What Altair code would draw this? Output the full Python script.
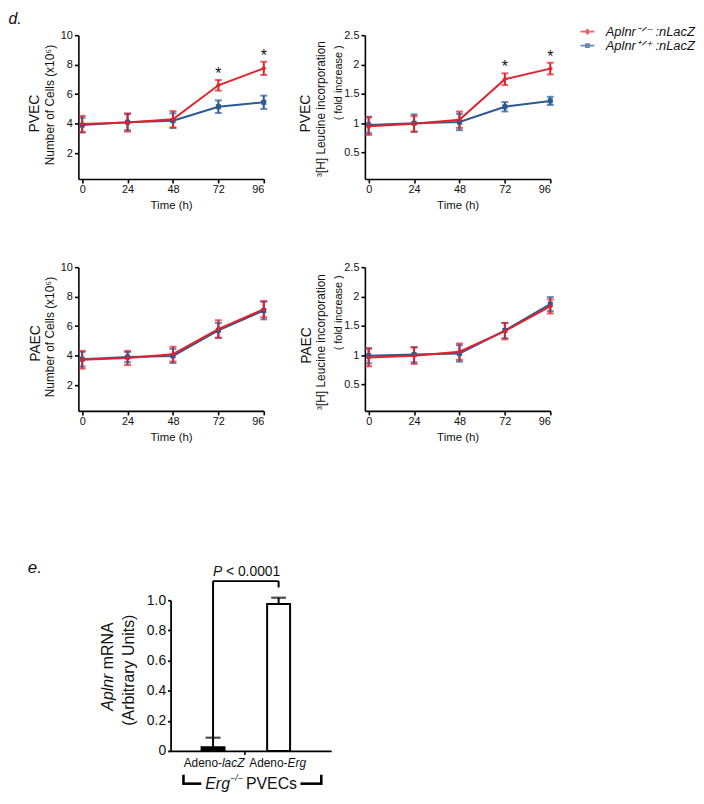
import altair as alt
import pandas as pd

FONT = "Liberation Sans"
RED = "#e5202a"
BLUE = "#2b5991"

RED_LABEL = "Aplnr⁻ᐟ⁻ :nLacZ"
BLUE_LABEL = "Aplnr⁺ᐟ⁺ :nLacZ"
SERIES = [RED_LABEL, BLUE_LABEL]

hours = [0, 24, 48, 72, 96]

# PVEC - number of cells (x10^5)
pvec_cells_red = [3.98, 4.08, 4.30, 6.60, 7.75]
pvec_cells_red_err = [0.55, 0.62, 0.55, 0.36, 0.45]
pvec_cells_blue = [3.90, 4.10, 4.20, 5.15, 5.45]
pvec_cells_blue_err = [0.50, 0.55, 0.50, 0.43, 0.45]

# PVEC - 3H leucine incorporation (fold increase)
pvec_leu_red = [0.95, 0.99, 1.06, 1.75, 1.93]
pvec_leu_red_err = [0.15, 0.13, 0.14, 0.10, 0.10]
pvec_leu_blue = [0.97, 1.00, 1.02, 1.28, 1.38]
pvec_leu_blue_err = [0.14, 0.15, 0.14, 0.08, 0.07]

# PAEC - number of cells (x10^5)
paec_cells_red = [3.72, 3.84, 4.10, 5.80, 7.15]
paec_cells_red_err = [0.60, 0.48, 0.50, 0.60, 0.55]
paec_cells_blue = [3.76, 3.90, 3.98, 5.72, 7.06]
paec_cells_blue_err = [0.50, 0.35, 0.48, 0.50, 0.60]

# PAEC - 3H leucine incorporation (fold increase)
paec_leu_red = [0.96, 0.99, 1.06, 1.41, 1.83]
paec_leu_red_err = [0.15, 0.14, 0.14, 0.14, 0.12]
paec_leu_blue = [0.99, 1.01, 1.03, 1.42, 1.87]
paec_leu_blue_err = [0.13, 0.13, 0.14, 0.13, 0.12]

star_hours = [72, 96]

# panel e
e_categories = ["Adeno-lacZ", "Adeno-Erg"]
e_prefix = ["Adeno-", "Adeno-"]
e_italic = ["lacZ", "Erg"]
e_values = [0.025, 0.975]
e_err = [0.063, 0.042]
e_fill = ["black", "white"]
e_tick_values = [0, 0.2, 0.4, 0.6, 0.8, 1.0]


def make_df(red, red_err, blue, blue_err):
    rows = []
    for lab, vals, errs in [(BLUE_LABEL, blue, blue_err), (RED_LABEL, red, red_err)]:
        for t, v, e in zip(hours, vals, errs):
            rows.append({"s": lab, "t": t, "m": v, "lo": v - e, "hi": v + e})
    return pd.DataFrame(rows)


color_scale = alt.Scale(domain=SERIES, range=[RED, BLUE])
cond_color = alt.condition(alt.datum.s == RED_LABEL, alt.value(RED), alt.value(BLUE))

LINE_PATH_DIAMOND = "M-1.75,-0.22H1.75V0.22H-1.75Z M0,-0.8L0.8,0L0,0.8L-0.8,0Z"
LINE_PATH_SQUARE = "M-1.75,-0.22H1.75V0.22H-1.75Z M-0.62,-0.62H0.62V0.62H-0.62Z"

W, H = 187, 145
ONE = pd.DataFrame({"k": [0]})


def guide(y_top, y_bottom):
    # invisible rule that fixes the layout bounds of a row
    return alt.Chart(ONE).mark_rule(strokeOpacity=0, strokeWidth=1).encode(
        x=alt.value(-70.5), y=alt.value(y_top), y2=alt.value(y_bottom))


def line_panel(df, ydom, yvals, title_main, title_main_x, title_main_y, title_fs,
               cell_label, cell_x, cell_y, second=None, stars=False, legend=False,
               dlabel=False, bounds_guide=False):
    xscale = alt.Scale(domain=[-2, 96], nice=False, zero=False)
    xaxis = alt.Axis(values=hours, title="Time (h)", titleY=27, titleBaseline="middle",
                     titleFontSize=11.5, titleFontWeight="normal", labelFontSize=11,
                     tickSize=4, labelPadding=1, grid=False)
    yscale = alt.Scale(domain=ydom, nice=False, zero=False)
    yaxis = alt.Axis(values=yvals, format="~r", title=title_main, titleX=title_main_x,
                     titleY=title_main_y, titleBaseline="middle", titleFontSize=title_fs,
                     titleFontWeight="normal", labelFontSize=11, tickSize=4, labelPadding=2,
                     grid=False, labelOverlap=False)

    def X(f):
        return alt.X(f, scale=xscale, axis=xaxis)

    def Y(f):
        return alt.Y(f, scale=yscale, axis=yaxis)

    base = alt.Chart(df)
    line = base.mark_line(strokeWidth=2).encode(x=X("t:Q"), y=Y("m:Q"), color=cond_color,
                                                detail="s:N", order="t:Q")
    rule = base.mark_rule(strokeWidth=2).encode(x=X("t:Q"), y=Y("lo:Q"), y2="hi:Q", color=cond_color)
    cap_lo = base.mark_tick(orient="horizontal", size=7, thickness=2).encode(
        x=X("t:Q"), y=Y("lo:Q"), color=cond_color)
    cap_hi = base.mark_tick(orient="horizontal", size=7, thickness=2).encode(
        x=X("t:Q"), y=Y("hi:Q"), color=cond_color)
    pts = base.mark_point(filled=True, size=26, opacity=1).encode(
        x=X("t:Q"), y=Y("m:Q"), color=cond_color,
        shape=alt.condition(alt.datum.s == RED_LABEL, alt.value("diamond"), alt.value("square")),
    )
    layers = [line, rule, cap_lo, cap_hi, pts]

    lab_df = pd.DataFrame({"label": [cell_label]})
    layers.append(
        alt.Chart(lab_df).mark_text(angle=270, fontSize=14, font=FONT, color="#111",
                                    align="center", baseline="middle")
        .encode(text="label:N", x=alt.value(cell_x), y=alt.value(cell_y))
    )
    if second is not None:
        txt, sx, sy, sfs = second
        layers.append(
            alt.Chart(pd.DataFrame({"label": [txt]})).mark_text(
                angle=270, fontSize=sfs, font=FONT, color="#111", align="center", baseline="middle")
            .encode(text="label:N", x=alt.value(sx), y=alt.value(sy))
        )
    if stars:
        sdf = df[(df.s == RED_LABEL) & (df.t.isin(star_hours))]
        layers.append(
            alt.Chart(sdf).mark_text(text="*", fontSize=16, font=FONT, color="#111",
                                     baseline="alphabetic", dy=-1)
            .encode(x=X("t:Q"), y=Y("hi:Q"))
        )
    if legend:
        leg = alt.Legend(orient="none", legendX=507, legendY=-10, title=None,
                         labelFontStyle="italic", labelFontSize=13, labelFont=FONT,
                         labelColor="#111", symbolSize=64, symbolStrokeWidth=0,
                         labelOffset=12, rowPadding=0, padding=0)
        layers.append(
            base.transform_filter("false").mark_point(filled=True).encode(
                x=X("t:Q"), y=Y("m:Q"),
                color=alt.Color("s:N", scale=color_scale, legend=leg),
                shape=alt.Shape("s:N", scale=alt.Scale(domain=SERIES,
                                                       range=[LINE_PATH_DIAMOND, LINE_PATH_SQUARE]),
                                legend=leg),
            )
        )
    if dlabel:
        layers.append(
            alt.Chart(pd.DataFrame({"label": ["d."]})).mark_text(
                fontSize=16, fontStyle="italic", font=FONT, color="#111",
                align="left", baseline="alphabetic")
            .encode(text="label:N", x=alt.value(-70.5), y=alt.value(-11))
        )
    if bounds_guide:
        layers.append(guide(-24, H + 40))
    return alt.layer(*layers).properties(width=W, height=H)


cells_title = "Number of Cells (x10⁵)"
leu_title = "³[H] Leucine incorporation"
fold = "( fold increase )"

p1 = line_panel(make_df(pvec_cells_red, pvec_cells_red_err, pvec_cells_blue, pvec_cells_blue_err),
                [0.25, 10], [2, 4, 6, 8, 10], cells_title, -29, 70, 12,
                "PVEC", -44, 79, stars=True, dlabel=True, bounds_guide=True)
p2 = line_panel(make_df(pvec_leu_red, pvec_leu_red_err, pvec_leu_blue, pvec_leu_blue_err),
                [0.05, 2.5], [0.5, 1, 1.5, 2, 2.5], leu_title, -45, 74, 12,
                "PVEC", -59, 79, second=(fold, -26, 48, 11), stars=True, legend=True)
p3 = line_panel(make_df(paec_cells_red, paec_cells_red_err, paec_cells_blue, paec_cells_blue_err),
                [0.25, 10], [2, 4, 6, 8, 10], cells_title, -29, 70, 12,
                "PAEC", -43, 77, bounds_guide=True)
p4 = line_panel(make_df(paec_leu_red, paec_leu_red_err, paec_leu_blue, paec_leu_blue_err),
                [0.05, 2.5], [0.5, 1, 1.5, 2, 2.5], leu_title, -45, 75, 12,
                "PAEC", -58, 79, second=(fold, -26, 46, 11))

# ---------------- panel e ----------------
EW, EH = 162, 152
edf = pd.DataFrame({"cat": e_categories, "pre": e_prefix, "ita": e_italic,
                    "v": e_values, "hi": [v + e for v, e in zip(e_values, e_err)], "fill": e_fill})
ex = alt.Scale(domain=e_categories, paddingInner=0.65, paddingOuter=0.55, align=0.43)
exaxis = alt.Axis(labels=False, ticks=False, title=None, domainWidth=1.8)
ey = alt.Scale(domain=[0, 1], nice=False, zero=True)
eyaxis = alt.Axis(values=e_tick_values, labelExpr="datum.value == 0 ? '0' : format(datum.value, '.1f')",
                  labelFontSize=14, tickSize=3, labelPadding=2, domainWidth=1.8, tickWidth=1.8,
                  labelOverlap=False,
                  title="(Arbitrary Units)", titleX=-42, titleY=70, titleBaseline="middle",
                  titleFontSize=16, titleFontWeight="normal", grid=False)


def EX(f):
    return alt.X(f, scale=ex, axis=exaxis)


def EY(f):
    return alt.Y(f, scale=ey, axis=eyaxis)


def EYD(v):
    return alt.Y(datum=v, scale=ey, axis=eyaxis)


ebase = alt.Chart(edf)
bars = ebase.mark_bar(stroke="black", strokeWidth=2).encode(
    x=EX("cat:N"), y=EY("v:Q"),
    fill=alt.Fill("cat:N", scale=alt.Scale(domain=e_categories, range=e_fill), legend=None))
erule = ebase.mark_rule(strokeWidth=2, color="black").encode(x=EX("cat:N"), y=EY("v:Q"), y2="hi:Q")
ecap = ebase.mark_tick(orient="horizontal", size=15, thickness=2.2, color="black").encode(
    x=EX("cat:N"), y=EY("hi:Q"))

BRACKET_TOP = 1.127
BRACKET_RIGHT_LOW = 1.085
lac = e_categories[0]
erg = e_categories[1]
sig_left = ebase.transform_filter(alt.datum.cat == lac).mark_rule(strokeWidth=2, color="black").encode(
    x=EX("cat:N"), y=EY("hi:Q"), y2=alt.datum(BRACKET_TOP))
sig_right = ebase.transform_filter(alt.datum.cat == erg).mark_rule(strokeWidth=2, color="black").encode(
    x=EX("cat:N"), y=EYD(BRACKET_RIGHT_LOW), y2=alt.datum(BRACKET_TOP))
sig_top = ebase.transform_filter(alt.datum.cat == lac).mark_rule(strokeWidth=2, color="black").encode(
    x=EX("cat:N"), x2=alt.datum(erg), y=EYD(BRACKET_TOP))
p_it = ebase.transform_filter(alt.datum.cat == lac).mark_text(
    text="P", fontStyle="italic", fontSize=14, font=FONT, align="left", baseline="middle", color="#111"
).encode(x=EX("cat:N"), y=EYD(1.185))
p_val = ebase.transform_filter(alt.datum.cat == lac).mark_text(
    text="< 0.0001", fontSize=14, font=FONT, align="left", baseline="middle", dx=13, color="#111"
).encode(x=EX("cat:N"), y=EYD(1.185))

lab_pre = ebase.mark_text(fontSize=12, font=FONT, align="right", baseline="middle", dx=9, dy=12,
                          color="#111").encode(x=EX("cat:N"), y=EYD(0), text="pre:N")
lab_ita = ebase.mark_text(fontSize=12, font=FONT, fontStyle="italic", align="left", baseline="middle",
                          dx=9, dy=12, color="#111").encode(x=EX("cat:N"), y=EYD(0), text="ita:N")

one = pd.DataFrame({"a": ["Aplnr"], "b": ["mRNA"], "c": ["Erg"], "sup": ["−/−"], "d": ["PVECs"]})
title_a = alt.Chart(one).mark_text(angle=270, fontSize=16, font=FONT, fontStyle="italic", align="right",
                                   baseline="middle", color="#111").encode(
    text="a:N", x=alt.value(-63), y=alt.value(74))
title_b = alt.Chart(one).mark_text(angle=270, fontSize=16, font=FONT, align="left",
                                   baseline="middle", color="#111").encode(
    text="b:N", x=alt.value(-63), y=alt.value(69.5))
GY = 185
grp_a = alt.Chart(one).mark_text(fontSize=16, font=FONT, fontStyle="italic", align="left",
                                 baseline="middle", color="#111").encode(
    text="c:N", x=alt.value(35), y=alt.value(GY))
grp_s = alt.Chart(one).mark_text(fontSize=9, font=FONT, fontStyle="italic", align="left",
                                 baseline="middle", color="#111").encode(
    text="sup:N", x=alt.value(60), y=alt.value(GY - 6))
grp_b = alt.Chart(one).mark_text(fontSize=16, font=FONT, align="left",
                                 baseline="middle", color="#111").encode(
    text="d:N", x=alt.value(76), y=alt.value(GY))
br_style = dict(strokeWidth=2.6, color="black")
br1 = alt.Chart(one).mark_rule(**br_style).encode(x=alt.value(13), y=alt.value(176), y2=alt.value(186))
br2 = alt.Chart(one).mark_rule(**br_style).encode(x=alt.value(12), x2=alt.value(31), y=alt.value(185))
br3 = alt.Chart(one).mark_rule(**br_style).encode(x=alt.value(131), x2=alt.value(153), y=alt.value(185))
br4 = alt.Chart(one).mark_rule(**br_style).encode(x=alt.value(152), y=alt.value(176), y2=alt.value(186))
mid_tick = alt.Chart(one).mark_rule(strokeWidth=1.6, color="black").encode(
    x=alt.value(75), y=alt.value(EH), y2=alt.value(EH + 4))

pe = alt.layer(bars, erule, ecap, sig_left, sig_right, sig_top, p_it, p_val, lab_pre, lab_ita,
               title_a, title_b, grp_a, grp_s, grp_b, br1, br2, br3, br4, mid_tick
               ).properties(width=EW, height=EH)

spacer_text = alt.Chart(pd.DataFrame({"label": ["e."]})).mark_text(
    fontSize=17, fontStyle="italic", font=FONT, color="#111", align="left", baseline="middle"
).encode(text="label:N", x=alt.value(-51), y=alt.value(-33))
spacer = alt.layer(spacer_text, guide(-50, EH + 41)).properties(width=83, height=EH)

row1 = alt.hconcat(p1, p2, spacing=102, bounds="flush")
row2 = alt.hconcat(p3, p4, spacing=102, bounds="flush")
top = alt.vconcat(row1, row2, spacing=25, bounds="full")
row3 = alt.hconcat(spacer, pe, spacing=10, bounds="flush")

chart = alt.vconcat(top, row3, spacing=101, bounds="full").properties(
    padding={"left": 0, "top": 0, "right": 0, "bottom": 0}
).configure(font=FONT).configure_view(stroke=None).configure_axis(
    domainColor="black", tickColor="black", labelColor="#111", titleColor="#111",
    domainWidth=1.6, tickWidth=1.6, labelFont=FONT, titleFont=FONT
)

chart.save("out.html", embed_options={"renderer": "svg", "actions": False})
